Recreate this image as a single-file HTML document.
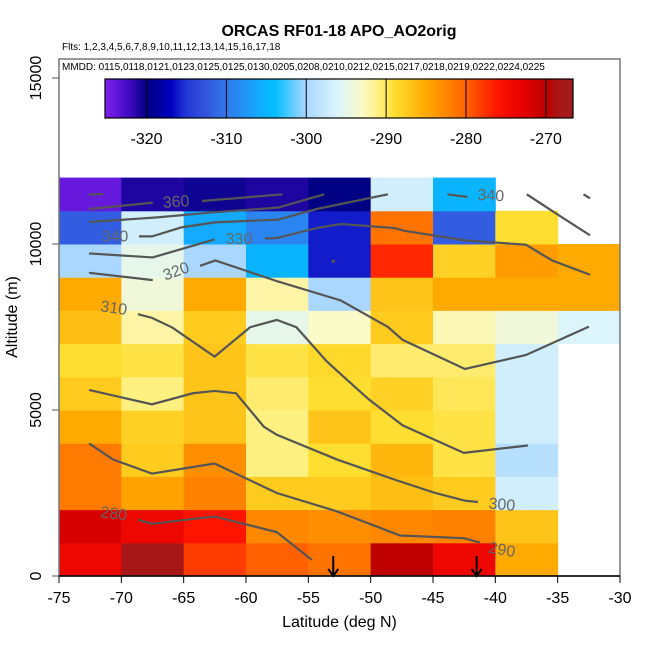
<!DOCTYPE html>
<html><head><meta charset="utf-8"><style>
body{margin:0;background:#fff;}
svg{display:block;font-family:"Liberation Sans",sans-serif;}
</style></head><body>
<svg id="chart" width="650" height="650" viewBox="0 0 650 650"></svg>
<script>
const latCenters=[-72.5,-67.5,-62.5,-57.5,-52.5,-47.5,-42.5,-37.5,-32.5];
const altBins=[0,1000,2000,3000,4000,5000,6000,7000,8000,9000,10000,11000];
// rows: index 0 = 0-1000 m ... 11 = 11000-12000 m ; null = no data
const cellValues=[
[-274,-268,-278,-280,-281,-270,-274,-285,null],
[-272,-274,-276,-282.5,-283,-282.5,-282,-287,null],
[-281.5,-284.5,-282,-287.5,-287.5,-286.5,-287.5,-297,null],
[-281.5,-287.5,-283,-291,-289,-286,-289.5,-299,null],
[-285,-288,-287,-291,-287,-289,-289.5,-297,null],
[-287.5,-291,-287,-290.5,-289,-288,-290,-297,null],
[-289,-289.5,-287,-289.5,-288.5,-290.5,-290.5,-297,null],
[-286.5,-292,-287.5,-295,-293,-287.5,-292.5,-294,-296],
[-285,-294,-285,-292,-300,-287,-285,-285,-285],
[-300,-295,-300,-305,-316,-277,-288,-284,-285],
[-312,-297,-306,-309,-316,-281,-312,-289,null],
[-324,-321,-320.5,-321,-320,-297,-305,null,null]
];
const xTicks=[-75,-70,-65,-60,-55,-50,-45,-40,-35,-30];
const yTicks=[0,5000,10000,15000];
const cbTicks=[-320,-310,-300,-290,-280,-270];
const contourLines=[
[[-72.59,11487],[-71.46,11507]],
[[-72.59,11054],[-67.48,11246]],
[[-63.53,11296],[-57.06,11497]],
[[-72.59,10662],[-67.10,10803],[-62.64,10954],[-57.44,11095],[-53.73,11497]],
[[-68.58,10229],[-67.54,10229],[-65.17,10501],[-62.52,10652],[-57.44,10732],[-54.32,11054],[-48.62,11497]],
[[-43.84,11497],[-42.23,11417]],
[[-37.48,11497],[-34.98,10883],[-32.40,10260]],
[[-32.93,11497],[-32.40,11376]],
[[-72.59,9716],[-67.48,9596],[-62.52,10139]],
[[-58.48,10169],[-57.53,10179],[-54.32,10481],[-52.39,10602],[-48.08,10481],[-47.34,10400],[-42.44,10109],[-37.54,9978],[-35.46,9505],[-32.40,9073]],
[[-72.59,9133],[-67.48,8912]],
[[-63.68,9344],[-62.46,9505],[-57.44,8871],[-52.39,8298],[-48.62,7503],[-47.43,7111],[-42.44,6236],[-37.54,6658],[-32.49,7513]],
[[-68.67,7885],[-67.54,7775],[-65.91,7483],[-62.52,6608],[-59.67,7493],[-57.53,7714],[-55.96,7493],[-53.58,6487],[-52.84,6229],[-50.16,5322],[-47.43,4536],[-42.53,3709],[-37.39,3931]],
[[-72.59,5604],[-67.54,5171],[-64.27,5504],[-62.52,5574],[-60.80,5504],[-58.57,4496],[-57.53,4254],[-52.69,3508],[-48.08,2903],[-44.82,2500],[-42.44,2268],[-41.40,2228]],
[[-72.59,3992],[-70.66,3508],[-67.54,3084],[-62.52,3387],[-57.53,2500],[-52.69,1945],[-47.64,1220],[-42.53,1139],[-41.25,1008]],
[[-68.67,1693],[-67.54,1572],[-62.52,1794],[-57.53,1320],[-54.71,484]]
];
const contourLabelText=["360","340","340","330","320","310","300","290","280"];
const contourLabelPos=[[-65.61,11266],[-70.51,10229],[-40.36,11457],[-60.56,10149],[-65.61,9173],[-70.60,8067],[-39.47,2147],[-39.47,786],[-70.60,1875]];
const contourLabelRot=[-4,0,3,0,-20,8,5,10,8];
const arrowLats=[-53,-41.5];

const svg=document.getElementById('chart');
const NS='http://www.w3.org/2000/svg';
const X0=59,X1=620,Y0=576,Y15=78;
const xs=v=>X0+(v+75)/45*(X1-X0);
const ys=v=>Y0-v/15000*(Y0-Y15);
const CB0=105,CB1=573,cbMin=-325.2,cbMax=-266.6;
const cbx=v=>CB0+(v-cbMin)/(cbMax-cbMin)*(CB1-CB0);
const stops=[[-325.2,[128,32,240]],[-322,[60,10,190]],[-320,[0,0,130]],[-317,[0,0,190]],[-315,[35,55,215]],[-313,[50,80,220]],[-310,[50,120,235]],[-306,[20,170,255]],[-304,[0,190,255]],[-300,[170,215,255]],[-296,[220,245,250]],[-293,[250,250,200]],[-291,[255,240,130]],[-289,[255,222,50]],[-285,[255,170,0]],[-281,[255,115,0]],[-278,[255,60,0]],[-276,[255,20,0]],[-273,[230,0,0]],[-270,[190,0,0]],[-268.5,[170,20,20]],[-266.6,[160,30,30]]];
function col(v){
  if(v<=stops[0][0])return 'rgb('+stops[0][1]+')';
  for(let i=1;i<stops.length;i++){if(v<=stops[i][0]){const a=stops[i-1],b=stops[i],t=(v-a[0])/(b[0]-a[0]);
    return 'rgb('+a[1].map((c,k)=>Math.round(c+(b[1][k]-c)*t)).join(',')+')';}}
  return 'rgb('+stops[stops.length-1][1]+')';
}
function mk(tag,attrs,parent){const e=document.createElementNS(NS,tag);for(const k in attrs)e.setAttribute(k,attrs[k]);(parent||svg).appendChild(e);return e;}

const cellsG=mk('g',{});


cellValues.forEach((row,ri)=>row.forEach((v,ci)=>{
  if(v===null)return;
  const r=mk('rect',{x:xs(latCenters[ci]-2.5),y:ys(altBins[ri]+1000),width:xs(latCenters[ci]+2.5)-xs(latCenters[ci]-2.5)+0.5,height:ys(altBins[ri])-ys(altBins[ri]+1000)+0.5,fill:col(v)},cellsG);
  
  
}));

const cg=mk('g',{fill:'none',stroke:'#555','stroke-width':2.2});


contourLines.forEach(line=>{
  const p=mk('polyline',{points:line.map(q=>xs(q[0])+','+ys(q[1])).join(' ')},cg);
  
  
});
const dot=mk('circle',{cx:xs(-53),cy:ys(9480),r:1.8,fill:'#555'});


contourLabelText.forEach((t,i)=>{
  const x=xs(contourLabelPos[i][0]),y=ys(contourLabelPos[i][1]);
  const e=mk('text',{x:x,y:y+5,'font-size':16,fill:'#666','text-anchor':'middle',transform:'rotate('+contourLabelRot[i]+' '+x+' '+y+')'});
  e.textContent=t;
  
  
});
arrowLats.forEach(l=>{
  const x=xs(l);
  const g=mk('g',{stroke:'#000','stroke-width':2,fill:'none'});
  
  
  mk('line',{x1:x,y1:556,x2:x,y2:576},g);
  mk('polyline',{points:(x-5)+',569 '+x+',576 '+(x+5)+',569'},g);
});

const box=mk('rect',{x:X0,y:59,width:X1-X0,height:Y0-59,fill:'none',stroke:'#777','stroke-width':1.5});


mk('line',{x1:X0,y1:Y0,x2:X1,y2:Y0,stroke:'#000','stroke-width':1.5});
xTicks.forEach(t=>{
  mk('line',{x1:xs(t),y1:Y0,x2:xs(t),y2:Y0+7,stroke:'#000','stroke-width':1});
  const e=mk('text',{x:xs(t),y:603,'font-size':16,'text-anchor':'middle'});e.textContent=t;
  
  
});
yTicks.forEach(t=>{
  mk('line',{x1:X0-7,y1:ys(t),x2:X0,y2:ys(t),stroke:'#555','stroke-width':1});
  const e=mk('text',{x:41,y:ys(t),'font-size':16,'text-anchor':'middle',transform:'rotate(-90 41 '+ys(t)+')'});e.textContent=t;
  
  
});
const cb=mk('g',{});


for(let x=CB0;x<CB1;x+=1){
  const v=cbMin+(x+0.5-CB0)/(CB1-CB0)*(cbMax-cbMin);
  mk('rect',{x:x,y:79,width:1.3,height:39,fill:col(v)},cb);
}
cbTicks.forEach(t=>{
  mk('line',{x1:cbx(t),y1:79,x2:cbx(t),y2:118,stroke:'#000','stroke-width':1},cb);
  const e=mk('text',{x:cbx(t),y:144,'font-size':16,'text-anchor':'middle'},cb);e.textContent=t;
  
  
});
mk('rect',{x:CB0,y:79,width:CB1-CB0,height:39,fill:'none',stroke:'#000','stroke-width':1.2},cb);
</script>
<div style="position:absolute;left:0;top:0;width:650px;height:650px;pointer-events:none;font-family:'Liberation Sans',sans-serif;">
<div style="position:absolute;left:0;width:678px;top:23px;text-align:center;font-weight:bold;font-size:16px;">ORCAS RF01-18 APO_AO2orig</div>
<div style="position:absolute;left:62px;top:42px;font-size:10px;">Flts: 1,2,3,4,5,6,7,8,9,10,11,12,13,14,15,16,17,18</div>
<div style="position:absolute;left:62px;top:62px;font-size:10px;">MMDD: 0115,0118,0121,0123,0125,0125,0130,0205,0208,0210,0212,0215,0217,0218,0219,0222,0224,0225</div>
<div style="position:absolute;left:59px;width:561px;top:614px;text-align:center;font-size:16px;">Latitude (deg N)</div>
<div style="position:absolute;left:-87px;top:308px;width:200px;text-align:center;font-size:16px;transform:rotate(-90deg);">Altitude (m)</div>
</div>
</body></html>
